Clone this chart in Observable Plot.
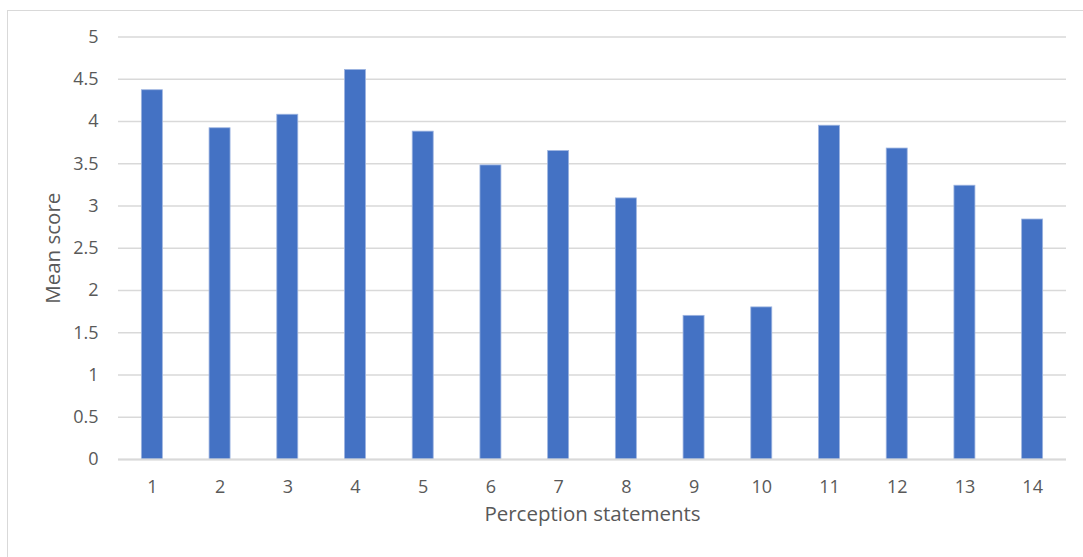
<!DOCTYPE html>
<html>
<head>
<meta charset="utf-8">
<script src="https://cdn.jsdelivr.net/npm/d3@7"></script>
<script src="https://cdn.jsdelivr.net/npm/@observablehq/plot@0.6"></script>
<style>
  html, body { margin: 0; padding: 0; background: #fff; }
  #wrap { position: relative; width: 1083px; height: 557px; overflow: hidden; }
  #frame { position: absolute; left: 7px; top: 10px; width: 1200px; height: 700px;
           border-top: 1.5px solid #d9d9d9; border-left: 1.5px solid #d9d9d9; pointer-events: none; }
  svg { position: absolute; left: 0; top: 0; }
</style>
</head>
<body>
<div id="wrap"><div id="frame"></div></div>
<script>
const statements = ["1","2","3","4","5","6","7","8","9","10","11","12","13","14"];
const meanScores = [4.37, 3.92, 4.08, 4.61, 3.88, 3.48, 3.65, 3.09, 1.70, 1.80, 3.95, 3.68, 3.24, 2.84];
const yTicks = [0, 0.5, 1, 1.5, 2, 2.5, 3, 3.5, 4, 4.5, 5];

const data = statements.map((s, i) => ({statement: s, score: meanScores[i]}));
const textColor = "#595959";

const chart = Plot.plot({
  width: 1083,
  height: 557,
  marginLeft: 118,
  marginRight: 17,
  marginTop: 36.5,
  marginBottom: 98,
  style: {fontFamily: "'Open Sans', sans-serif", fontSize: "18px", color: textColor, background: "transparent"},
  x: {domain: statements, paddingInner: 0.69, paddingOuter: 0.345, align: 0.5, round: false},
  y: {domain: [0, 5]},
  marks: [
    Plot.gridY(yTicks, {stroke: "#d9d9d9", strokeOpacity: 1, strokeWidth: 1.4}),
    Plot.barY(data, {x: "statement", y: "score", fill: "#4472c4", stroke: "#9db4e0", strokeWidth: 0.8}),
    Plot.ruleY([0], {stroke: "#d9d9d9", strokeWidth: 2}),
    Plot.axisX({tickSize: 0, tickPadding: 21, fill: textColor, fontSize: 18, label: null}),
    Plot.axisX({ticks: [], tickSize: 0, fill: textColor, fontSize: 20.5,
      label: "Perception statements", labelAnchor: "center", labelArrow: "none", labelOffset: 61}),
    Plot.axisY(yTicks, {tickSize: 0, tickPadding: 20, fill: textColor, fontSize: 18,
      tickFormat: d => String(d), label: null}),
    Plot.axisY({ticks: [], tickSize: 0, fill: textColor, fontSize: 20.5,
      label: "Mean score", labelAnchor: "center", labelArrow: "none", labelOffset: 73})
  ]
});
document.getElementById("wrap").insertBefore(chart, document.getElementById("frame"));
</script>
</body>
</html>
